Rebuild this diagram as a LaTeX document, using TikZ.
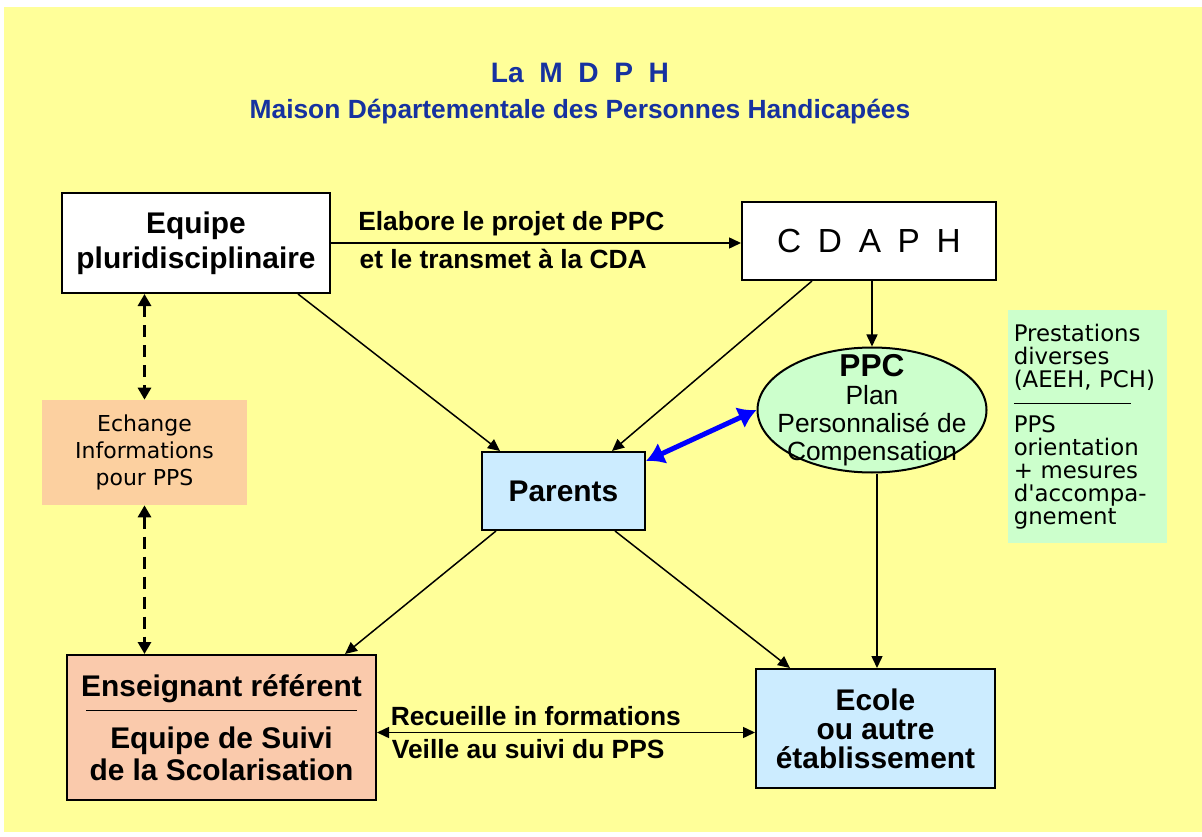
\documentclass[tikz,border=0pt]{standalone}
\usepackage{fontspec}
\setmainfont{Liberation Sans}
\newfontfamily\pixfont{DejaVu Sans}
\newfontfamily\spacedfont[LetterSpace=50]{Liberation Sans}
\usetikzlibrary{arrows.meta,shapes.geometric}
\definecolor{bgyellow}{RGB}{255,255,153}
\definecolor{titleblue}{RGB}{22,50,160}
\definecolor{ppcgreen}{RGB}{204,255,204}
\definecolor{parentblue}{RGB}{204,236,255}
\definecolor{refpink}{RGB}{250,202,172}
\definecolor{echorange}{RGB}{252,208,160}

\begin{document}
\begin{tikzpicture}[x=0.2mm,y=-0.2mm,
  box/.style={draw,line width=0.4mm,align=center,font=\bfseries\fontsize{17}{20}\selectfont},
  note/.style={align=center,font=\pixfont\fontsize{12.5}{15.5}\selectfont},
  arr/.style={line width=0.3mm,-{Triangle[length=2.4mm,width=2.2mm]}},
  twoarr/.style={line width=0.3mm,{Triangle[length=2.4mm,width=2.2mm]}-{Triangle[length=2.4mm,width=2.2mm]}},
  dasharr/.style={line width=0.6mm,dash pattern=on 2.4mm off 1.6mm,{Triangle[length=2.4mm,width=2.6mm]}-{Triangle[length=2.4mm,width=2.6mm]}},
  lbl/.style={font=\bfseries\fontsize{15}{18}\selectfont}]
\useasboundingbox[fill=white] (0,0) rectangle (1202,837);
\fill[bgyellow] (4,7) rectangle (1202,832);

% titre
\node[text=titleblue,font=\bfseries\fontsize{16}{20}\selectfont] (titre) at (580,73) {La~~M~~D~~P~~H};
\node[text=titleblue,font=\bfseries\fontsize{15}{18}\selectfont] (soustitre) at (580,112) {Maison Départementale des Personnes Handicapées};

% boites
\node[box] (equipe) [fill=white, minimum width=5.36cm, minimum height=2cm] at (196,243) {Equipe\\pluridisciplinaire};
\node[box] (cdaph) [fill=white, minimum width=5.08cm, minimum height=1.56cm, font=\spacedfont\fontsize{19}{22}\selectfont] at (869,241) {CDAPH};
\node[ellipse,draw,line width=0.4mm,fill=ppcgreen,minimum width=4.58cm,minimum height=2.5cm,inner sep=0pt] (ppc) at (872,410) {};
\node[align=center,font=\fontsize{15}{16}\selectfont] (ppctxt) at (ppc.center) {{\bfseries\fontsize{18}{18}\selectfont PPC}\\Plan\\Personnalisé de\\Compensation};
\node[box] (parents) [fill=parentblue, minimum width=3.26cm, minimum height=1.56cm] at (563.5,491) {Parents};
\node[note] (prest) [fill=ppcgreen, align=left, text width=2.95cm, minimum height=4.66cm, font=\pixfont\fontsize{13}{13}\selectfont] at (1087.5,426.5)
  {Prestations\\diverses\\(AEEH, PCH)\\\rule[0.5ex]{2.35cm}{0.6pt}\\PPS\\orientation\\+ mesures\\d'accompa-\\gnement};
\node[note] (echange) [fill=echorange, minimum width=4.1cm, minimum height=2.1cm] at (144.5,452.5) {Echange\\Informations\\pour PPS};
\node[box] (referent) [fill=refpink, minimum width=6.18cm, minimum height=2.9cm, font=\bfseries\fontsize{17}{18}\selectfont] at (221.5,727.5)
  {Enseignant référent\\[-5pt]\rule[0.5ex]{5.4cm}{0.6pt}\\[-1pt]Equipe de Suivi\\de la Scolarisation};
\node[box] (ecole) [fill=parentblue, minimum width=4.78cm, minimum height=2.38cm, font=\bfseries\fontsize{17}{16.5}\selectfont] at (875.5,728.5) {Ecole\\ou autre\\établissement};

% fleches
\path (equipe.east) edge[arr] node[lbl,above=0pt,pos=0.44] {Elabore le projet de PPC}
                              node[lbl,below=0pt,pos=0.42] {et le transmet à la CDA} (equipe.east -| cdaph.west);
\path (ppc.north |- cdaph.south) edge[arr] (ppc.north);
\path ([xshift=2.04cm]equipe.south) edge[arr] ([xshift=-1.27cm]parents.north);
\path ([xshift=-1.14cm]cdaph.south) edge[arr] ([xshift=0.97cm]parents.north);
\path ([yshift=-0.2cm]parents.north east) edge[line width=1mm,blue,{Latex[length=3.6mm,width=4.6mm]}-{Latex[length=3.6mm,width=4.6mm]}] (ppc.west);
\path ([xshift=-1.35cm]parents.south) edge[arr] ([xshift=2.47cm]referent.north);
\path ([xshift=1.03cm]parents.south) edge[arr] ([xshift=-1.71cm]ecole.north);
\path ([xshift=0.1cm]ppc.south) edge[arr] ([xshift=0.1cm]ppc.south |- ecole.north);
\path (echange.north |- equipe.south) edge[dasharr] (echange.north);
\path (echange.south) edge[dasharr] (echange.south |- referent.north);
\path ([yshift=-0.1cm]referent.east) edge[twoarr] node[lbl,above=0pt,pos=0.42] {Recueille in formations}
                              node[lbl,below=0pt,pos=0.40] {Veille au suivi du PPS} ([yshift=-0.1cm]referent.east -| ecole.west);
\end{tikzpicture}
\end{document}
